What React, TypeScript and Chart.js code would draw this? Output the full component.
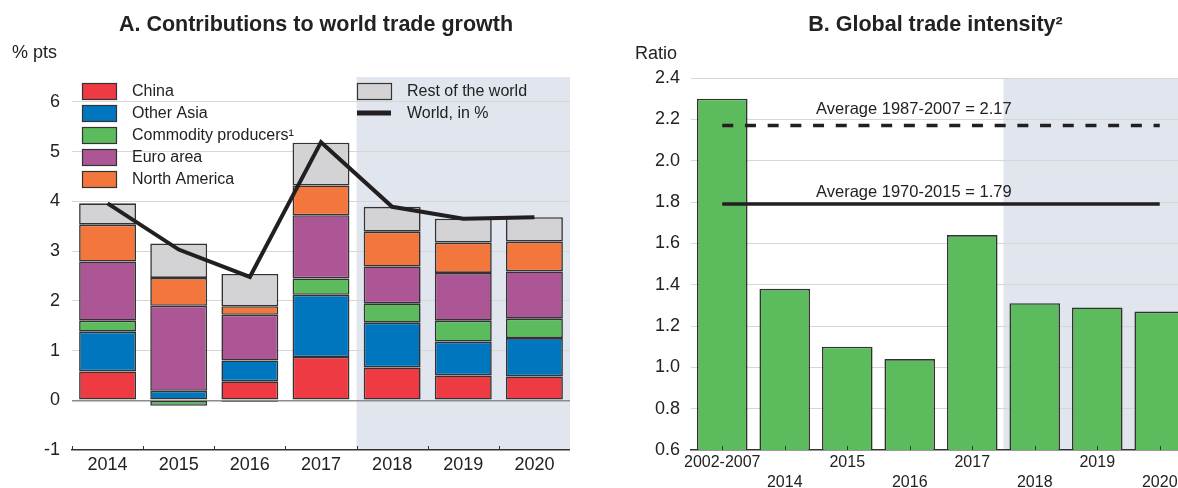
import React, { useEffect, useRef } from 'react';
import { Chart, registerables } from 'chart.js';

Chart.register(...registerables);

const FONT = "'Liberation Sans', Arial, Helvetica, sans-serif";

// ---------- Panel A data ----------
const yearsA = ['2014', '2015', '2016', '2017', '2018', '2019', '2020'];
const china = [0.58, 0.0, 0.38, 0.87, 0.66, 0.5, 0.48];
const otherAsia = [0.8, 0.19, 0.42, 1.25, 0.9, 0.68, 0.77];
const commodityProducers = [0.22, -0.11, -0.03, 0.33, 0.39, 0.42, 0.39];
const euroArea = [1.19, 1.71, 0.92, 1.27, 0.74, 0.96, 0.95];
const northAmerica = [0.74, 0.56, 0.17, 0.6, 0.7, 0.61, 0.6];
const restOfWorld = [0.43, 0.69, 0.65, 0.86, 0.5, 0.48, 0.49];
const worldGrowth = [3.96, 3.03, 2.48, 5.19, 3.89, 3.65, 3.68];

// ---------- Panel B data ----------
const periodsB = ['2002-2007', '2014', '2015', '2016', '2017', '2018', '2019', '2020'];
const tradeIntensity = [2.3, 1.38, 1.1, 1.04, 1.64, 1.31, 1.29, 1.27];
const average1987to2007 = 2.17;
const average1970to2015 = 1.79;

// ---------- styles ----------
const RED = '#EE3A43';
const BLUE = '#0076BE';
const GREEN = '#5CBB5C';
const PURPLE = '#AC5696';
const ORANGE = '#F3763C';
const GREY = '#D3D3D5';
const DARK = '#231F20';
const EDGE = '#333333';
const SHADE = '#E1E6EE';
const GRID = '#d6d6d6';
const TEXT = '#222222';

const shadePlugin = (afterIndex: number) => ({
  id: 'shadeArea',
  beforeDraw(chart: any) {
    const { ctx, chartArea, scales } = chart;
    const xs = scales.x;
    const x = (xs.getPixelForValue(afterIndex) + xs.getPixelForValue(afterIndex + 1)) / 2;
    ctx.save();
    ctx.fillStyle = SHADE;
    ctx.fillRect(x, chartArea.top, chartArea.right - x, chartArea.bottom - chartArea.top);
    ctx.restore();
  },
});

const innerTicksPlugin = (atBoundaries: boolean) => ({
  id: 'innerTicks',
  afterDatasetsDraw(chart: any) {
    const { ctx, chartArea, scales } = chart;
    const xs = scales.x;
    const n = xs.getLabels().length;
    const w = (chartArea.right - chartArea.left) / n;
    ctx.save();
    ctx.strokeStyle = '#333';
    ctx.lineWidth = 1;
    const positions: number[] = [];
    if (atBoundaries) {
      for (let i = 0; i <= n; i++) positions.push(chartArea.left + i * w);
    } else {
      for (let i = 0; i < n; i++) positions.push(xs.getPixelForValue(i));
    }
    positions.forEach((p) => {
      const x = Math.round(p) + 0.5;
      ctx.beginPath();
      ctx.moveTo(x, chartArea.bottom);
      ctx.lineTo(x, chartArea.bottom - 4);
      ctx.stroke();
    });
    ctx.restore();
  },
});

const textPlugin = (draw: (chart: any) => void) => ({
  id: 'texts',
  afterDraw(chart: any) {
    const { ctx } = chart;
    ctx.save();
    draw(chart);
    ctx.restore();
  },
});

export default function App() {
  const refA = useRef<HTMLCanvasElement | null>(null);
  const refB = useRef<HTMLCanvasElement | null>(null);

  useEffect(() => {
    if (!refA.current || !refB.current) return;

    const barBase = {
      type: 'bar' as const,
      borderColor: EDGE,
      borderWidth: 1.6,
      borderSkipped: false,
      categoryPercentage: 1,
      barPercentage: 0.8,
      order: 1,
    };

    const legendItemsLeft = [
      { label: 'China', color: RED },
      { label: 'Other Asia', color: BLUE },
      { label: 'Commodity producers¹', color: GREEN },
      { label: 'Euro area', color: PURPLE },
      { label: 'North America', color: ORANGE },
    ];

    const chartA = new Chart(refA.current, {
      type: 'bar',
      data: {
        labels: yearsA,
        datasets: [
          { ...barBase, label: 'China', data: china, backgroundColor: RED },
          { ...barBase, label: 'Other Asia', data: otherAsia, backgroundColor: BLUE },
          { ...barBase, label: 'Commodity producers¹', data: commodityProducers, backgroundColor: GREEN },
          { ...barBase, label: 'Euro area', data: euroArea, backgroundColor: PURPLE },
          { ...barBase, label: 'North America', data: northAmerica, backgroundColor: ORANGE },
          { ...barBase, label: 'Rest of the world', data: restOfWorld, backgroundColor: GREY },
          {
            type: 'line' as const,
            label: 'World, in %',
            data: worldGrowth,
            borderColor: DARK,
            borderWidth: 4,
            pointRadius: 0,
            tension: 0,
            fill: false,
            order: 0,
          } as any,
        ],
      },
      options: {
        responsive: false,
        animation: false,
        layout: { padding: { top: 77, left: 0, right: 0, bottom: 0 } },
        plugins: {
          legend: { display: false },
          tooltip: { enabled: false },
          title: { display: false },
        },
        scales: {
          x: {
            stacked: true,
            grid: { display: false },
            border: { display: true, color: '#333', width: 1.5 },
            ticks: {
              font: { family: FONT, size: 18 },
              color: TEXT,
              padding: -4,
              maxRotation: 0,
              minRotation: 0,
              autoSkip: false,
            },
            afterFit: (s: any) => {
              s.height = 38;
            },
          },
          y: {
            stacked: true,
            min: -1,
            max: 6.5,
            ticks: {
              stepSize: 1,
              font: { family: FONT, size: 18 },
              color: TEXT,
              padding: 12,
              callback: (v: any) => (Math.abs(Number(v) - 6.5) < 1e-6 ? '' : String(v)),
            },
            grid: {
              drawTicks: false,
              color: (c: any) => {
                const v = c.tick ? c.tick.value : null;
                if (v === null) return GRID;
                if (Math.abs(v - 6.5) < 1e-6) return 'rgba(0,0,0,0)';
                if (Math.abs(v) < 1e-6) return '#8c8c8c';
                if (Math.abs(v + 1) < 1e-6) return 'rgba(0,0,0,0)';
                return GRID;
              },
              lineWidth: (c: any) => (c.tick && Math.abs(c.tick.value) < 1e-6 ? 1.5 : 1),
            },
            border: { display: false },
            afterFit: (s: any) => {
              s.width = 72;
            },
          },
        },
      },
      plugins: [
        shadePlugin(3),
        innerTicksPlugin(true),
        textPlugin((chart: any) => {
          const { ctx } = chart;
          ctx.fillStyle = TEXT;
          ctx.font = `bold 21.5px ${FONT}`;
          ctx.textAlign = 'center';
          ctx.textBaseline = 'alphabetic';
          ctx.fillText('A. Contributions to world trade growth', 316, 31);
          ctx.font = `18px ${FONT}`;
          ctx.textAlign = 'left';
          ctx.fillText('% pts', 12, 58);

          // legend
          ctx.font = `16px ${FONT}`;
          ctx.textBaseline = 'middle';
          legendItemsLeft.forEach((it, i) => {
            const cy = 91 + i * 22;
            ctx.fillStyle = it.color;
            ctx.fillRect(82, cy - 8, 34, 16);
            ctx.strokeStyle = EDGE;
            ctx.lineWidth = 1.2;
            ctx.strokeRect(82.5, cy - 7.5, 34, 16);
            ctx.fillStyle = TEXT;
            ctx.fillText(it.label, 132, cy + 1);
          });
          // right column
          ctx.fillStyle = GREY;
          ctx.fillRect(357, 83, 34, 16);
          ctx.strokeStyle = EDGE;
          ctx.lineWidth = 1.2;
          ctx.strokeRect(357.5, 83.5, 34, 16);
          ctx.fillStyle = TEXT;
          ctx.fillText('Rest of the world', 407, 92);
          ctx.strokeStyle = DARK;
          ctx.lineWidth = 5;
          ctx.beginPath();
          ctx.moveTo(357, 113);
          ctx.lineTo(391, 113);
          ctx.stroke();
          ctx.fillText('World, in %', 407, 114);
        }),
      ],
    } as any);

    const chartB = new Chart(refB.current, {
      type: 'bar',
      data: {
        labels: periodsB,
        datasets: [
          {
            type: 'bar' as const,
            label: 'Global trade intensity',
            data: tradeIntensity,
            backgroundColor: GREEN,
            borderColor: EDGE,
            borderWidth: 1.6,
            borderSkipped: false,
            categoryPercentage: 1,
            barPercentage: 0.81,
            order: 1,
          } as any,
          {
            type: 'line' as const,
            label: 'Average 1987-2007',
            data: periodsB.map(() => average1987to2007),
            borderColor: DARK,
            borderWidth: 3.5,
            borderDash: [11, 11.7],
            borderCapStyle: 'butt',
            pointRadius: 0,
            fill: false,
            order: 0,
          } as any,
          {
            type: 'line' as const,
            label: 'Average 1970-2015',
            data: periodsB.map(() => average1970to2015),
            borderColor: DARK,
            borderWidth: 3.5,
            pointRadius: 0,
            fill: false,
            order: 0,
          } as any,
        ],
      },
      options: {
        responsive: false,
        animation: false,
        layout: { padding: { top: 78, left: 0, right: 0, bottom: 0 } },
        plugins: {
          legend: { display: false },
          tooltip: { enabled: false },
          title: { display: false },
        },
        scales: {
          x: {
            grid: { display: false },
            border: { display: true, color: '#333', width: 1.5 },
            ticks: {
              font: { family: FONT, size: 16, lineHeight: 1.22 },
              color: TEXT,
              padding: -5,
              maxRotation: 0,
              minRotation: 0,
              autoSkip: false,
              callback: (_v: any, i: number) => (i % 2 === 0 ? periodsB[i] : ['', periodsB[i]]),
            },
            afterFit: (s: any) => {
              s.height = 38;
            },
          },
          y: {
            min: 0.6,
            max: 2.4,
            ticks: {
              stepSize: 0.2,
              font: { family: FONT, size: 18 },
              color: TEXT,
              padding: 11,
              callback: (v: any) => Number(v).toFixed(1),
            },
            grid: {
              drawTicks: false,
              color: (c: any) => {
                const v = c.tick ? c.tick.value : null;
                if (v !== null && Math.abs(v - 0.6) < 1e-6) return 'rgba(0,0,0,0)';
                return GRID;
              },
              lineWidth: 1,
            },
            border: { display: false },
            afterFit: (s: any) => {
              s.width = 101;
            },
          },
        },
      },
      plugins: [
        shadePlugin(4),
        innerTicksPlugin(false),
        textPlugin((chart: any) => {
          const { ctx, chartArea, scales } = chart;
          ctx.fillStyle = TEXT;
          ctx.font = `bold 21.5px ${FONT}`;
          ctx.textAlign = 'center';
          ctx.textBaseline = 'alphabetic';
          ctx.fillText('B. Global trade intensity²', 345.5, 31);
          ctx.font = `18px ${FONT}`;
          ctx.textAlign = 'left';
          ctx.fillText('Ratio', 45, 59);

          ctx.font = `16.5px ${FONT}`;
          ctx.textBaseline = 'middle';
          const tx = chartArea.left + 125;
          ctx.fillText(
            `Average 1987-2007 = ${average1987to2007.toFixed(2)}`,
            tx,
            scales.y.getPixelForValue(average1987to2007) - 16
          );
          ctx.fillText(
            `Average 1970-2015 = ${average1970to2015.toFixed(2)}`,
            tx,
            scales.y.getPixelForValue(average1970to2015) - 12
          );
        }),
      ],
    } as any);

    return () => {
      chartA.destroy();
      chartB.destroy();
    };
  }, []);

  return (
    <div
      style={{
        position: 'fixed',
        left: 0,
        top: 0,
        width: 1178,
        height: 488,
        overflow: 'hidden',
        background: '#ffffff',
      }}
    >
      <canvas
        ref={refA}
        width={570}
        height={488}
        style={{ position: 'absolute', left: 0, top: 0, width: 570, height: 488, display: 'block' }}
      />
      <canvas
        ref={refB}
        width={601}
        height={488}
        style={{ position: 'absolute', left: 590, top: 0, width: 601, height: 488, display: 'block' }}
      />
    </div>
  );
}
